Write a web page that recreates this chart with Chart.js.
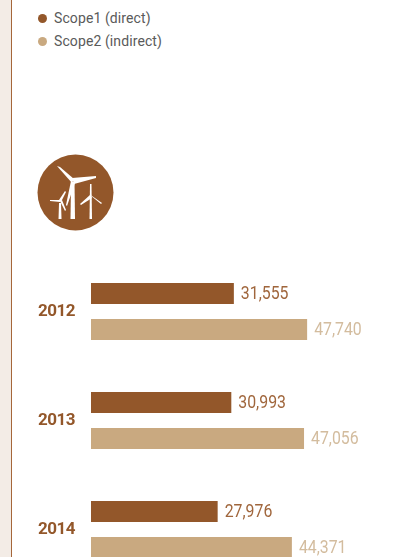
<!DOCTYPE html>
<html>
<head>
<meta charset="utf-8">
<style>
html, body { margin: 0; height: 557px; overflow: hidden; background: #fff; }
#strip { position: absolute; left: 0; top: 0; width: 11px; height: 557px; background: #f3ece6; border-right: 1.5px solid #a5663a; }
#wrap { position: absolute; left: 0; top: 0; width: 407px; height: 600px; }
#icon { position: absolute; left: 0; top: 0; }
.key { position: absolute; left: 54px; font: 14px Roboto, sans-serif; color: #5a5a5a; line-height: 18px; letter-spacing: 0.1px; }
.key i { position: absolute; left: -16px; top: 5px; width: 9px; height: 9px; border-radius: 50%; }
</style>
</head>
<body>
<div id="strip"></div>
<div class="key" style="top:9px"><i style="background:#93572a"></i>Scope1 (direct)</div>
<div class="key" style="top:32px"><i style="background:#c9a980"></i>Scope2 (indirect)</div>
<svg id="icon" width="407" height="240">
  <circle cx="75.5" cy="192.5" r="38" fill="#93572a"/>
  <g fill="#fff">
    <polygon points="71,182 74.5,182 75,219 70.5,219"/>
    <polygon points="57,166 60,167 74,179 72,183"/>
    <polygon points="72,178 96,176 96,178 74,184"/>
    <polygon points="71,181 75,183 67,206 66,205"/>
    <polygon points="90,184 91.5,184 92,219 89.5,219"/>
    <polygon points="90,195 92,198 81,205 80,204"/>
    <polygon points="90,195 92,196 102,203 101,204"/>
    <polygon points="59,203 61,203 61.5,219 58.5,219"/>
    <polygon points="50,200 60,200 60,202 50,201"/>
    <polygon points="59,200 65,191 66,192 61,202"/>
    <polygon points="60,201 62,200 66,210 65,211"/>
  </g>
</svg>
<div id="wrap"><canvas id="myChart" width="407" height="600"></canvas></div>
<script src="https://cdn.jsdelivr.net/npm/chart.js@4"></script>
<script>
const years = ["2012", "2013", "2014"];
const scope1 = [31555, 30993, 27976];
const scope2 = [47740, 47056, 44371];

// no narrow font here, so squeeze the value labels sideways
const valueLabels = {
    id: 'valueLabels',
    beforeDraw(chart) {
        chart.ctx.letterSpacing = '-0.5px';
    },
    afterDatasetsDraw(chart) {
        const c = chart.ctx;
        c.save();
        c.letterSpacing = '0px';
        c.font = "18px Roboto, sans-serif";
        c.textBaseline = 'middle';
        chart.data.datasets.forEach((ds, i) => {
            c.fillStyle = ds.labelColor;
            chart.getDatasetMeta(i).data.forEach((bar, j) => {
                c.save();
                c.translate(bar.x + 7, bar.y + 1);
                c.scale(0.88, 1);
                c.fillText(ds.data[j].toLocaleString('en-US'), 0, 0);
                c.restore();
            });
        });
        c.restore();
    }
};

const ctx = document.getElementById('myChart');
let myChart = new Chart(ctx, {
    type: 'bar',
    plugins: [valueLabels],
    data: {
        labels: years,
        datasets: [
            { label: "Scope1 (direct)", data: scope1, backgroundColor: "#93572a", labelColor: "#a0663c" },
            { label: "Scope2 (indirect)", data: scope2, backgroundColor: "#c9a980", labelColor: "#d3bc9e" }
        ]
    },
    options: {
        indexAxis: 'y',
        responsive: false,
        animation: false,
        categoryPercentage: 72 / 109,
        barPercentage: 21 / 36,
        layout: { padding: { left: 38, top: 257, bottom: 16, right: 0 } },
        plugins: { legend: { display: false }, tooltip: { enabled: false } },
        scales: {
            x: { display: false, min: 0, max: 69800 },
            y: {
                afterFit(axis) { axis.width = 53; },
                grid: { display: false },
                border: { display: false },
                ticks: {
                    crossAlign: 'far',
                    padding: 0,
                    color: "#93572a",
                    font: { family: "Roboto, sans-serif", size: 17, weight: 'bold' }
                }
            }
        }
    }
});
</script>
</body>
</html>
